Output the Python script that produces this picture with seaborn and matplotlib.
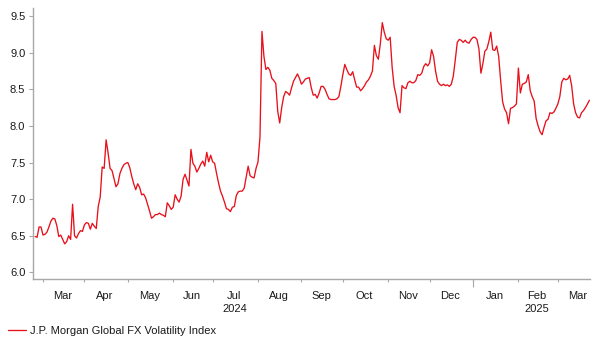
import numpy as np
import pandas as pd
import matplotlib
matplotlib.use("Agg")
import matplotlib.pyplot as plt
import seaborn as sns

# ---- data -------------------------------------------------------------
start_date = "2024-02-26"   # first business day shown
series_name = "J.P. Morgan Global FX Volatility Index"
values = [
    6.49, 6.48, 6.62, 6.62, 6.51, 6.52, 6.55, 6.62, 6.70, 6.74,
    6.73, 6.64, 6.49, 6.51, 6.45, 6.39, 6.42, 6.50, 6.45, 6.93,
    6.50, 6.47, 6.53, 6.57, 6.56, 6.65, 6.68, 6.67, 6.59, 6.67,
    6.63, 6.60, 6.90, 7.03, 7.44, 7.42, 7.81, 7.63, 7.42, 7.39,
    7.28, 7.17, 7.21, 7.35, 7.42, 7.47, 7.49, 7.50, 7.43, 7.31,
    7.21, 7.13, 7.21, 7.16, 7.06, 7.07, 7.02, 6.93, 6.84, 6.74,
    6.76, 6.79, 6.79, 6.81, 6.79, 6.78, 6.76, 6.95, 6.91, 6.86,
    6.89, 7.06, 7.00, 6.96, 7.04, 7.27, 7.34, 7.26, 7.18, 7.68,
    7.49, 7.45, 7.37, 7.42, 7.48, 7.52, 7.45, 7.64, 7.51, 7.60,
    7.51, 7.49, 7.35, 7.22, 7.11, 7.04, 6.96, 6.87, 6.86, 6.83,
    6.89, 6.90, 7.05, 7.10, 7.11, 7.11, 7.15, 7.30, 7.45, 7.32,
    7.30, 7.29, 7.42, 7.51, 7.85, 9.29, 8.95, 8.77, 8.80, 8.76,
    8.65, 8.62, 8.58, 8.20, 8.04, 8.25, 8.40, 8.47, 8.45, 8.42,
    8.52, 8.61, 8.66, 8.71, 8.65, 8.57, 8.60, 8.64, 8.65, 8.66,
    8.52, 8.42, 8.43, 8.38, 8.45, 8.54, 8.54, 8.50, 8.43, 8.37,
    8.36, 8.36, 8.36, 8.37, 8.40, 8.54, 8.70, 8.84, 8.77, 8.71,
    8.69, 8.74, 8.63, 8.53, 8.53, 8.48, 8.51, 8.55, 8.60, 8.63,
    8.68, 8.75, 9.10, 8.96, 8.91, 9.12, 9.41, 9.28, 9.19, 9.17,
    9.21, 8.80, 8.54, 8.42, 8.25, 8.18, 8.55, 8.52, 8.51, 8.59,
    8.61, 8.59, 8.59, 8.62, 8.70, 8.69, 8.72, 8.81, 8.85, 8.82,
    8.86, 9.04, 8.95, 8.75, 8.61, 8.57, 8.55, 8.57, 8.55, 8.56,
    8.54, 8.57, 8.68, 8.90, 9.14, 9.18, 9.17, 9.14, 9.17, 9.14,
    9.13, 9.18, 9.21, 9.21, 9.18, 9.05, 8.72, 8.85, 9.02, 9.05,
    9.15, 9.28, 9.04, 9.03, 9.09, 8.95, 8.62, 8.33, 8.23, 8.18,
    8.03, 8.24, 8.25, 8.27, 8.30, 8.79, 8.45, 8.57, 8.58, 8.60,
    8.70, 8.48, 8.40, 8.34, 8.10, 8.00, 7.92, 7.88, 7.98, 8.07,
    8.09, 8.18, 8.17, 8.19, 8.24, 8.30, 8.40, 8.60, 8.65, 8.63,
    8.64, 8.69, 8.55, 8.30, 8.18, 8.12, 8.11, 8.18, 8.21, 8.25,
    8.30, 8.35,
]
y_ticks = [6.0, 6.5, 7.0, 7.5, 8.0, 8.5, 9.0, 9.5]
month_names = ["Mar", "Apr", "May", "Jun", "Jul", "Aug", "Sep", "Oct",
               "Nov", "Dec", "Jan", "Feb", "Mar"]
month_starts = ["2024-03-01", "2024-04-01", "2024-05-01", "2024-06-01",
                "2024-07-01", "2024-08-01", "2024-09-01", "2024-10-01",
                "2024-11-01", "2024-12-01", "2025-01-01", "2025-02-01",
                "2025-03-01", "2025-04-01"]
year_labels = {"Jul": "2024", "Feb": "2025"}

# ---- frame ------------------------------------------------------------
dates = pd.bdate_range(start_date, periods=len(values))
df = pd.DataFrame({"date": dates, "pos": np.arange(len(values)), "value": values})

# business-day positions (the chart is spaced by trading day)
ext = pd.bdate_range("2024-02-01", "2025-05-30")
origin = ext.get_loc(pd.Timestamp(start_date))
def bpos(d):
    return ext.searchsorted(pd.Timestamp(d)) - origin

bounds = [bpos(d) for d in month_starts]
mid = [(bounds[k] + bounds[k + 1]) / 2 - 0.5 for k in range(len(month_names))]
labels = []
for n in month_names:
    if n in year_labels:
        labels.append(n + "\n" + year_labels.pop(n))
    else:
        labels.append(n)

# ---- plot -------------------------------------------------------------
sns.set_theme(style="white")
plt.rcParams["font.family"] = ["Liberation Sans", "DejaVu Sans"]
text_c = "#1a1a1a"
axis_c = "#a8a8a8"

fig = plt.figure(figsize=(6.03, 3.52), dpi=100)
ax = fig.add_axes([33 / 603, 1 - 279 / 352, (590 - 33) / 603, (279 - 8) / 352])

sns.lineplot(data=df, x="pos", y="value", ax=ax, color="#e8101a",
             linewidth=0.95, label=series_name, legend=False)

ax.set_xlim(-1.07, 281.3)
ax.set_ylim(5.91, 9.61)
ax.set_yticks(y_ticks)
ax.set_yticklabels([f"{t:.1f}" for t in y_ticks])

ax.set_xticks(mid)
ax.set_xticklabels(labels, linespacing=1.35)
ax.set_xticks(bounds[:-1], minor=True)
ax.tick_params(axis="x", which="major", length=0, pad=8.5, labelsize=8, colors=text_c,
               bottom=True)
ax.tick_params(axis="x", which="minor", length=2.5, width=0.8, color=axis_c,
               direction="out", bottom=True)
ax.tick_params(axis="y", which="major", length=3, width=0.8, color=axis_c, pad=2.5,
               labelsize=8, labelcolor=text_c, left=True)

# longer tick at the year boundary
sec = ax.secondary_xaxis("bottom")
sec.set_xticks([bpos("2025-01-01")])
sec.set_xticklabels([""])
sec.tick_params(length=5.5, width=0.8, color=axis_c, bottom=True)
sec.spines["bottom"].set_visible(False)

for s in ["top", "right"]:
    ax.spines[s].set_visible(False)
for s in ["left", "bottom"]:
    ax.spines[s].set_color(axis_c)
    ax.spines[s].set_linewidth(1.0)

ax.set_xlabel("")
ax.set_ylabel("")
ax.grid(False)

handles, lbls = ax.get_legend_handles_labels()
fig.legend(handles, lbls, loc="center left", bbox_to_anchor=(8 / 603, 1 - 331 / 352),
           frameon=False, fontsize=8, handlelength=1.6, handletextpad=0.35,
           borderpad=0, borderaxespad=0, labelcolor=text_c)

fig.savefig("out.png", dpi=100)
